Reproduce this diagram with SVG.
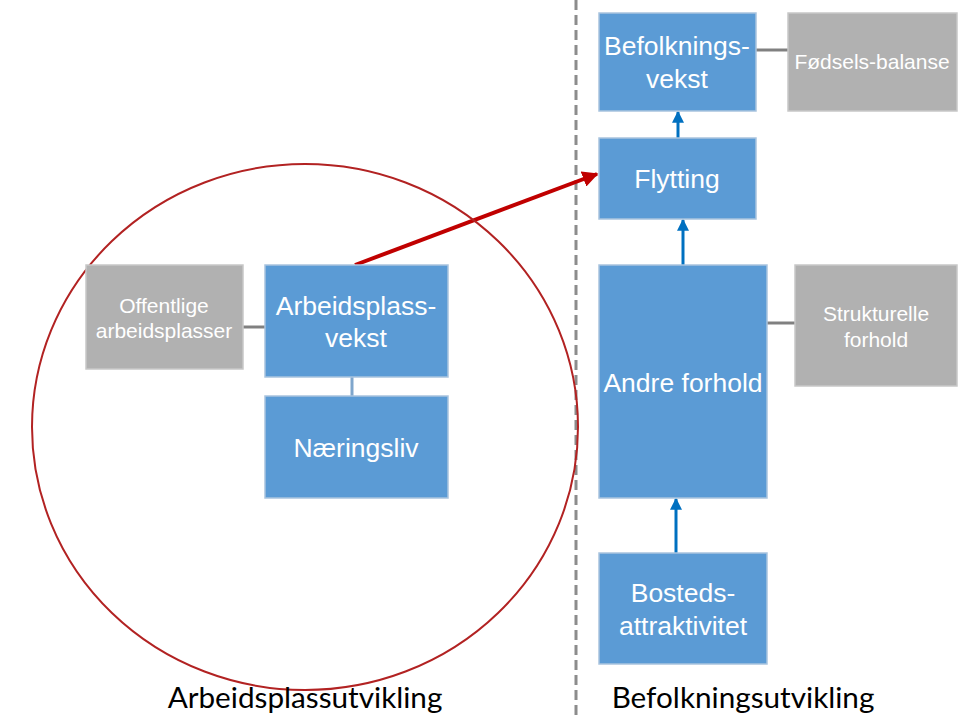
<svg xmlns="http://www.w3.org/2000/svg" width="960" height="716" viewBox="0 0 960 716">
<defs>
<style>
.b{fill:#5B9BD5;stroke:#A9C4DE;stroke-width:1.5}
.g{fill:#B1B1B1;stroke:#C8C8C8;stroke-width:1.5}
.t{font-family:"Liberation Sans",Arial,sans-serif;fill:#fff;text-anchor:middle}
.big{font-size:26.5px}
.sm{font-size:21px}
.lnk{stroke:#808080;stroke-width:3;fill:none}
.up{stroke:#0070C0;stroke-width:3;fill:none;marker-end:url(#ba)}
.cap{font-family:Lato,"Open Sans",sans-serif;font-size:29.7px;fill:#000;text-anchor:middle}
</style>
<marker id="ba" viewBox="0 0 10 10" refX="9" refY="5" markerWidth="4" markerHeight="4" orient="auto"><path d="M0,0L10,5L0,10z" fill="#0070C0"/></marker>
<marker id="ra" viewBox="0 0 10 10" refX="9" refY="5" markerWidth="4" markerHeight="4" orient="auto"><path d="M0,0L10,5L0,10z" fill="#C00000"/></marker>
</defs>
<rect width="960" height="716" fill="#fff"/>
<line x1="576" y1="0" x2="576" y2="716" stroke="#8C8C8C" stroke-width="3" stroke-dasharray="10,5"/>
<g id="connectors">
<line class="lnk" x1="756" y1="50" x2="788" y2="50"/>
<line class="lnk" x1="243" y1="327" x2="265" y2="327"/>
<line x1="352" y1="377" x2="352" y2="396" stroke="#7FA6CC" stroke-width="3"/>
<line class="lnk" x1="767" y1="323" x2="795" y2="323"/>
<line class="up" x1="678" y1="138" x2="678" y2="112"/>
<line class="up" x1="683" y1="265" x2="683" y2="220"/>
<line class="up" x1="676" y1="553" x2="676" y2="499"/>
<line x1="355" y1="265" x2="597" y2="174" stroke="#C00000" stroke-width="4" marker-end="url(#ra)"/>
</g>
<ellipse cx="305" cy="427" rx="273" ry="263" fill="none" stroke="#B22222" stroke-width="2"/>
<g id="befolkningsvekst"><rect class="b" x="599" y="13" width="157" height="98"/><text class="t big" x="677" y="55">Befolknings-</text><text class="t big" x="677" y="88">vekst</text></g>
<g id="fodselsbalanse"><rect class="g" x="788" y="13" width="169" height="98"/><text class="t sm" x="872" y="69">Fødsels-balanse</text></g>
<g id="flytting"><rect class="b" x="599" y="138" width="157" height="81"/><text class="t big" x="677" y="188">Flytting</text></g>
<g id="offentlige"><rect class="g" x="86" y="265" width="157" height="104"/><text class="t sm" x="164" y="313">Offentlige</text><text class="t sm" x="164" y="338">arbeidsplasser</text></g>
<g id="arbeidsplassvekst"><rect class="b" x="265" y="265" width="183" height="112"/><text class="t big" x="356" y="315">Arbeidsplass-</text><text class="t big" x="356" y="347">vekst</text></g>
<g id="naeringsliv"><rect class="b" x="265" y="396" width="183" height="102"/><text class="t big" x="356" y="457">Næringsliv</text></g>
<g id="andreforhold"><rect class="b" x="599" y="265" width="168" height="233"/><text class="t big" x="683" y="392">Andre forhold</text></g>
<g id="strukturelle"><rect class="g" x="795" y="265" width="162" height="121"/><text class="t sm" x="876" y="321">Strukturelle</text><text class="t sm" x="876" y="347">forhold</text></g>
<g id="bosteds"><rect class="b" x="599" y="553" width="168" height="111"/><text class="t big" x="683" y="602">Bosteds-</text><text class="t big" x="683" y="635">attraktivitet</text></g>
<text class="cap" x="305" y="708">Arbeidsplassutvikling</text>
<text class="cap" x="743" y="708">Befolkningsutvikling</text>
</svg>
